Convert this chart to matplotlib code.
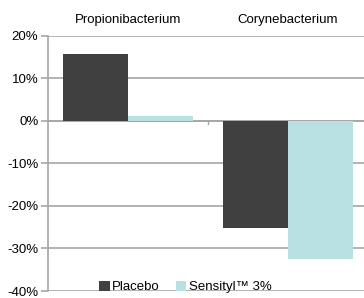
import numpy as np
import matplotlib
matplotlib.use("Agg")
import matplotlib.pyplot as plt
from matplotlib.ticker import FuncFormatter

categories = ["Propionibacterium", "Corynebacterium"]
series_names = ["Placebo", "Sensityl\u2122 3%"]
placebo = [15.6, -25.2]
sensityl = [1.0, -32.5]
colors = ["#404040", "#b9e0e2"]

plt.rcParams["font.family"] = ["Liberation Sans", "DejaVu Sans"]

fig = plt.figure(figsize=(3.64, 2.98), dpi=100)
ax = fig.add_axes([48 / 364, 1 - 291 / 298, (364 - 48) / 364, (291 - 35.5) / 298])

x = np.arange(len(categories))
w = 0.405
ax.bar(x - w / 2, placebo, w, color=colors[0], label=series_names[0], zorder=3)
ax.bar(x + w / 2, sensityl, w, color=colors[1], label=series_names[1], zorder=3)

ax.set_ylim(-40, 20)
ax.set_xlim(-0.5, -0.5 + (364 - 48) / 160)
ax.set_yticks(np.arange(-40, 21, 10))
ax.yaxis.set_major_formatter(FuncFormatter(lambda v, p: f"{v:.0f}%"))
ax.grid(axis="y", color="#a6a6a6", linewidth=1.2, zorder=0)
ax.axhline(0, color="#a6a6a6", linewidth=1.2, zorder=1)
ax.tick_params(axis="y", length=5, color="#a6a6a6", width=1.2, labelsize=9.5, pad=2)
ax.set_xticks([])
ax.plot([0.5, 0.5], [0, -0.8], color="#a6a6a6", lw=1, zorder=1)

for s in ["top", "right", "bottom"]:
    ax.spines[s].set_visible(False)
ax.spines["left"].set_color("#a6a6a6")
ax.spines["left"].set_linewidth(1.2)

for i, c in enumerate(categories):
    ax.text(x[i], 20 + 3.6, c, ha="center", va="center", fontsize=9.5)

ax.legend(loc="lower center", bbox_to_anchor=(0.435, -0.045), ncol=2, frameon=False,
          fontsize=9.5, handlelength=0.8, handleheight=0.8, handletextpad=0.2,
          columnspacing=1.2, borderpad=0.2)

fig.savefig("out.png", dpi=100)
